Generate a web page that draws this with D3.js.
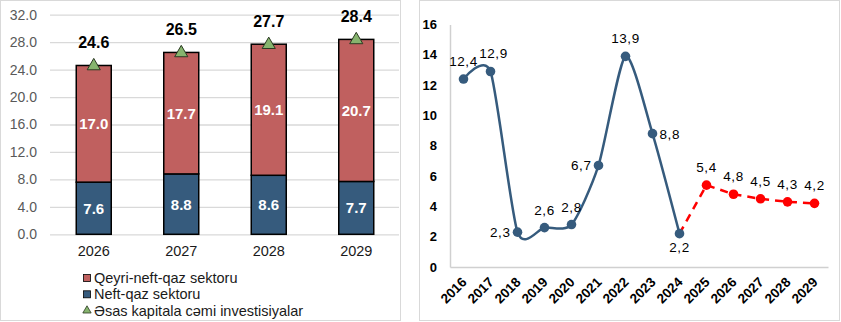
<!DOCTYPE html>
<html>
<head>
<meta charset="utf-8">
<script src="https://cdn.jsdelivr.net/npm/d3@7"></script>
<style>
  body { margin: 0; background: #fff; }
  svg { display: block; font-family: Arial, "Liberation Sans", sans-serif; }
</style>
</head>
<body>
<svg id="chart" width="841" height="322"></svg>
<script>
// left panel: investment by sector
const barYears = ["2026", "2027", "2028", "2029"];
const nonOil = [17.0, 17.7, 19.1, 20.7];
const oilGas = [7.6, 8.8, 8.6, 7.7];
const totalInv = [24.6, 26.5, 27.7, 28.4];
const barTicks = [0, 4, 8, 12, 16, 20, 24, 28, 32];
const legendNames = ["Qeyri-neft-qaz sektoru", "Neft-qaz sektoru", "Əsas kapitala  cəmi investisiyalar"];

// right panel: growth series
const lineYears = ["2016", "2017", "2018", "2019", "2020", "2021", "2022", "2023", "2024", "2025", "2026", "2027", "2028", "2029"];
const growth = [12.4, 12.9, 2.3, 2.6, 2.8, 6.7, 13.9, 8.8, 2.2, 5.4, 4.8, 4.5, 4.3, 4.2];
const labelSide = ["top", "top", "left", "top", "top", "left", "top", "right", "bottom", "top", "top", "top", "top", "top"];
const lineTicks = [0, 2, 4, 6, 8, 10, 12, 14, 16];
const forecastFrom = 8; // index of 2024

const red = "#c0605f", blue = "#365b7d", green = "#86b46e";
const narrow = "'Liberation Sans Narrow', 'Arial Narrow', Arial";
const svg = d3.select("#chart");

// frames
svg.append("rect").attr("x", 0.5).attr("y", 0.5).attr("width", 400).attr("height", 320)
  .attr("fill", "none").attr("stroke", "#d9d9d9");
svg.append("rect").attr("x", 419.5).attr("y", 0.5).attr("width", 420).attr("height", 320)
  .attr("fill", "none").attr("stroke", "#d9d9d9");

// ---- left ----
const xL = d3.scaleBand().domain(barYears).range([50, 400]).paddingInner(0.6).paddingOuter(0.3);
const yL = d3.scaleLinear().domain([0, 32]).range([234.3, 14.7]);

const gL = svg.append("g");
gL.append("g").attr("transform", "translate(50,0)")
  .call(d3.axisLeft(yL).tickValues(barTicks).tickFormat(d3.format(".1f")).tickSize(-349).tickPadding(13))
  .call(g => g.select(".domain").remove())
  .call(g => g.selectAll(".tick line").attr("stroke", "#d9d9d9").attr("stroke-width", 1.3))
  .call(g => g.selectAll(".tick text").attr("fill", "#595959").attr("font-size", 14).attr("font-family", "Arial, 'Liberation Sans'"));

gL.append("g").attr("transform", "translate(0,234.3)")
  .call(d3.axisBottom(xL).tickSize(0).tickPadding(11))
  .call(g => g.select(".domain").remove())
  .call(g => g.selectAll(".tick text").attr("fill", "#1a1a1a").attr("font-size", 14.5).attr("font-family", "Arial, 'Liberation Sans'"));

const bars = gL.append("g").selectAll("g").data(barYears).join("g");
bars.append("rect")
  .attr("x", d => xL(d)).attr("width", xL.bandwidth())
  .attr("y", (d, i) => yL(oilGas[i])).attr("height", (d, i) => yL(0) - yL(oilGas[i]))
  .attr("fill", blue).attr("stroke", "#000").attr("stroke-width", 1.5);
bars.append("rect")
  .attr("x", d => xL(d)).attr("width", xL.bandwidth())
  .attr("y", (d, i) => yL(oilGas[i] + nonOil[i])).attr("height", (d, i) => yL(oilGas[i]) - yL(oilGas[i] + nonOil[i]))
  .attr("fill", red).attr("stroke", "#000").attr("stroke-width", 1.5);
bars.append("text")
  .attr("x", d => xL(d) + xL.bandwidth() / 2)
  .attr("y", (d, i) => yL(oilGas[i] / 2) + 5.5)
  .attr("text-anchor", "middle").attr("fill", "#fff").attr("font-weight", "bold").attr("font-size", 15)
  .text((d, i) => oilGas[i].toFixed(1));
bars.append("text")
  .attr("x", d => xL(d) + xL.bandwidth() / 2)
  .attr("y", (d, i) => yL(oilGas[i] + nonOil[i] / 2) + 5.5)
  .attr("text-anchor", "middle").attr("fill", "#fff").attr("font-weight", "bold").attr("font-size", 15)
  .text((d, i) => nonOil[i].toFixed(1));

const tri = d3.symbol().type(d3.symbolTriangle);
bars.append("path")
  .attr("d", tri.size(75)())
  .attr("transform", (d, i) => `translate(${xL(d) + xL.bandwidth() / 2},${yL(totalInv[i]) + 0.5})`)
  .attr("fill", green).attr("stroke", "#2b3a22").attr("stroke-width", 1);
bars.append("text")
  .attr("x", d => xL(d) + xL.bandwidth() / 2)
  .attr("y", (d, i) => yL(totalInv[i]) - 17)
  .attr("text-anchor", "middle").attr("fill", "#000").attr("font-weight", "bold").attr("font-size", 16)
  .text((d, i) => totalInv[i].toFixed(1));

// legend
const leg = gL.append("g").attr("transform", "translate(83,278)");
const legRows = leg.selectAll("g").data(legendNames).join("g")
  .attr("transform", (d, i) => `translate(0,${i * 16.3})`);
legRows.filter((d, i) => i < 2).append("rect")
  .attr("x", 0.5).attr("y", -3.5).attr("width", 7).attr("height", 7)
  .attr("fill", (d, i) => i === 0 ? red : blue).attr("stroke", "#000").attr("stroke-width", 0.8);
legRows.filter((d, i) => i === 2).append("path")
  .attr("d", tri.size(30)()).attr("transform", "translate(4,0)")
  .attr("fill", green).attr("stroke", "#2b3a22").attr("stroke-width", 0.8);
legRows.append("text").attr("x", 11).attr("y", 5).attr("font-size", 14.5).attr("fill", "#1a1a1a")
  .text(d => d);

// ---- right ----
const xR = d3.scaleBand().domain(lineYears).range([450, 828]);
const yR = d3.scaleLinear().domain([0, 16]).range([267, 24.5]);
const gR = svg.append("g");
const cx = (d, i) => xR(lineYears[i]) + xR.bandwidth() / 2;

gR.append("g").attr("transform", "translate(450,0)")
  .call(d3.axisLeft(yR).tickValues(lineTicks).tickSize(0).tickPadding(13))
  .call(g => g.select(".domain").attr("stroke", "#d0d0d0").attr("stroke-width", 1.5))
  .call(g => g.selectAll(".tick text").attr("fill", "#000").attr("font-weight", "bold")
    .attr("font-size", 13).attr("font-family", narrow));

gR.append("g").attr("transform", "translate(0,267)")
  .call(d3.axisBottom(xR).tickSize(0).tickPadding(0))
  .call(g => g.select(".domain").attr("stroke", "#d0d0d0").attr("stroke-width", 1.5))
  .call(g => g.selectAll(".tick text").attr("fill", "#000").attr("font-weight", "bold").attr("font-size", 13.5)
    .attr("font-family", narrow)
    .attr("text-anchor", "end").attr("dy", 0).attr("transform", "translate(4,16) rotate(-45)"));

const pts = growth.map((v, i) => [cx(v, i), yR(v)]);
const histPts = pts.slice(0, forecastFrom + 1);
const fcPts = pts.slice(forecastFrom);

gR.append("path").attr("d", d3.line().curve(d3.curveCardinal.tension(0.3))(histPts))
  .attr("fill", "none").attr("stroke", blue).attr("stroke-width", 2.5);
gR.append("path").attr("d", d3.line()(fcPts))
  .attr("fill", "none").attr("stroke", "#ff0000").attr("stroke-width", 2.5).attr("stroke-dasharray", "8,6");

gR.append("g").selectAll("circle").data(growth).join("circle")
  .attr("cx", cx).attr("cy", d => yR(d)).attr("r", 4.8)
  .attr("fill", (d, i) => i > forecastFrom ? "#ff0000" : blue);

const off = { top: [0, -13], left: [-7, 5], right: [7, 5], bottom: [0, 18] };
const anchor = { top: "middle", left: "end", right: "start", bottom: "middle" };
gR.append("g").selectAll("text").data(growth).join("text")
  .attr("x", (d, i) => cx(d, i) + off[labelSide[i]][0] + (i === 1 ? 3 : 0))
  .attr("y", (d, i) => yR(d) + off[labelSide[i]][1])
  .attr("text-anchor", (d, i) => anchor[labelSide[i]])
  .attr("font-size", 13.5).attr("fill", "#000").attr("letter-spacing", 0.6)
  .text(d => d3.format(".1f")(d).replace(".", ","));
</script>
</body>
</html>
